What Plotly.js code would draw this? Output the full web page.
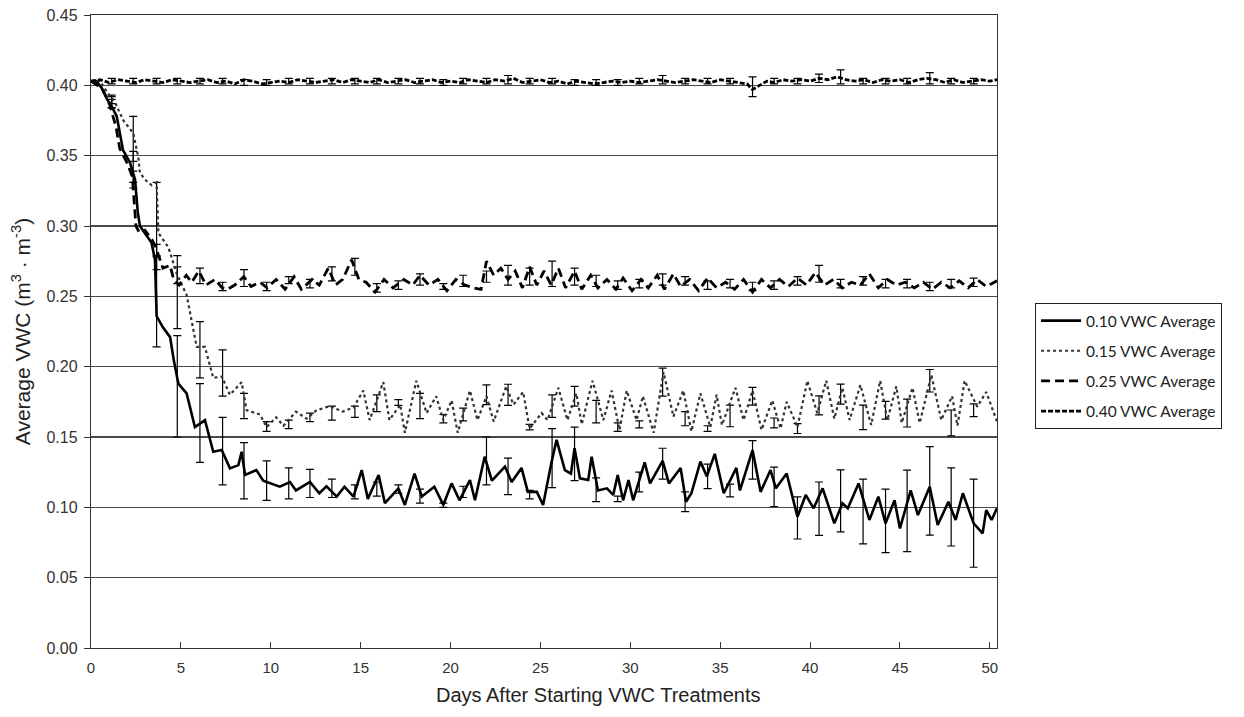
<!DOCTYPE html>
<html>
<head>
<meta charset="utf-8">
<script src="https://cdn.plot.ly/plotly-3.0.1.min.js"></script>
<style>
  html, body { margin: 0; padding: 0; background: #fff; }
  #chart { width: 1244px; height: 717px; }
</style>
</head>
<body>
<div id="chart"></div>
<script>
// ---------------- DATA ----------------
const SERIES_NAMES = ["0.10 VWC Average", "0.15 VWC Average", "0.25 VWC Average", "0.40 VWC Average"];
const X_TICKS = [0, 5, 10, 15, 20, 25, 30, 35, 40, 45, 50];
const Y_TICKS = [0.00, 0.05, 0.10, 0.15, 0.20, 0.25, 0.30, 0.35, 0.40, 0.45];
const X_TITLE = 'Days After Starting VWC Treatments';
const Y_TITLE = 'Average VWC (m<sup>3</sup> · m<sup>-3</sup>)';

// 0.10 VWC treatment
const DAYS_010 = [0,0.3,0.6,0.9,1.15,1.43,1.78,2.17,2.45,2.6,2.72,3.0,3.37,3.56,3.65,4.0,4.4,4.6,4.86,5.32,5.78,6.34,6.8,7.27,7.73,8.2,8.38,8.57,9.2,9.58,10.5,11.07,11.4,12.18,12.7,13.1,13.67,14.1,14.6,15.06,15.4,16.0,16.35,17.1,17.46,18.0,18.4,19.1,19.6,20.06,20.5,21.08,21.36,21.9,22.3,23.03,23.4,23.95,24.3,24.8,25.15,25.6,25.9,26.36,26.7,26.9,27.2,27.66,27.85,28.2,28.7,29.05,29.3,29.6,29.9,30.16,30.8,31.1,31.8,32.15,32.8,33.1,33.4,33.9,34.26,34.7,35.2,35.9,36.1,36.8,37.25,37.8,38.1,38.7,39.3,39.76,40.2,40.7,41.35,41.8,42.1,42.7,43.3,43.8,44.2,44.7,45.0,45.6,46.0,46.66,47.1,47.7,48.1,48.5,49.1,49.6,49.8,50.1,50.4];
const VWC_010 = [0.403,0.403,0.398,0.390,0.385,0.378,0.354,0.345,0.333,0.310,0.300,0.295,0.288,0.276,0.236,0.228,0.221,0.205,0.188,0.181,0.157,0.162,0.1395,0.1407,0.1277,0.130,0.1395,0.123,0.1265,0.119,0.1147,0.118,0.112,0.118,0.110,0.115,0.1076,0.1147,0.1076,0.1265,0.106,0.123,0.103,0.1135,0.1017,0.124,0.1076,0.1147,0.1017,0.117,0.105,0.1194,0.105,0.136,0.119,0.129,0.118,0.128,0.111,0.111,0.1017,0.131,0.148,0.1265,0.124,0.142,0.1206,0.1194,0.136,0.112,0.1135,0.1088,0.123,0.105,0.1194,0.105,0.132,0.117,0.133,0.117,0.128,0.104,0.110,0.1325,0.122,0.138,0.110,0.128,0.112,0.1407,0.111,0.1265,0.1135,0.124,0.0933,0.1088,0.0993,0.1135,0.0886,0.1029,0.0993,0.117,0.091,0.1076,0.0886,0.105,0.085,0.112,0.0945,0.1147,0.0874,0.104,0.091,0.110,0.0886,0.0815,0.098,0.091,0.0995];

// 0.15 VWC treatment
const DAYS_015 = [0,0.5,0.9,1.33,1.8,2.1,2.35,2.63,2.72,3.0,3.37,3.65,3.75,4.3,4.77,5.32,5.88,6.34,6.8,7.27,7.73,8.38,8.66,9.4,9.77,10.3,10.7,11.4,12.0,12.55,13.3,14.0,14.6,15.15,15.5,16.26,16.6,17.2,17.46,18.1,18.67,19.2,19.6,20.06,20.4,21.08,21.5,22.0,22.4,23.1,23.5,24.04,24.4,25.07,25.4,26.0,26.5,27.0,27.3,27.9,28.5,28.96,29.4,29.8,30.35,30.7,31.3,31.85,32.4,32.95,33.4,33.9,34.45,34.8,35.1,35.85,36.3,36.8,37.3,37.9,38.36,38.7,39.3,39.85,40.4,40.9,41.35,41.8,42.2,42.8,43.4,43.9,44.3,44.8,45.1,45.7,46.1,46.75,47.3,47.9,48.2,48.6,49.3,49.8,50.4];
const VWC_015 = [0.403,0.403,0.395,0.388,0.375,0.370,0.366,0.349,0.338,0.333,0.329,0.331,0.295,0.285,0.266,0.251,0.214,0.214,0.192,0.193,0.180,0.189,0.169,0.166,0.157,0.164,0.158,0.168,0.163,0.169,0.172,0.168,0.171,0.183,0.162,0.189,0.162,0.173,0.153,0.190,0.167,0.179,0.162,0.176,0.153,0.183,0.162,0.179,0.161,0.186,0.173,0.182,0.156,0.167,0.162,0.185,0.162,0.181,0.159,0.190,0.162,0.183,0.155,0.183,0.162,0.179,0.153,0.196,0.1645,0.183,0.154,0.181,0.157,0.180,0.1585,0.185,0.162,0.183,0.155,0.176,0.156,0.175,0.157,0.190,0.167,0.190,0.163,0.185,0.162,0.187,0.1585,0.190,0.162,0.186,0.160,0.185,0.160,0.194,0.162,0.179,0.158,0.190,0.1715,0.182,0.161];

// 0.25 VWC treatment
const DAYS_025 = [0,0.6,1.0,1.4,1.6,2.0,2.3,2.5,2.7,3.0,3.4,3.6,4.0,4.4,4.6,4.9,5.3,5.6,6.0,6.4,6.9,7.3,7.6,8.0,8.5,8.9,9.4,9.8,10.3,10.8,11.3,11.7,12.3,12.7,13.2,13.6,14.0,14.5,14.9,15.3,15.8,16.3,16.8,17.4,17.9,18.3,18.8,19.3,19.8,20.3,20.8,21.3,21.7,22.0,22.4,22.8,23.2,23.6,24.0,24.4,24.8,25.2,25.6,26.0,26.4,26.9,27.3,27.8,28.2,28.7,29.2,29.6,30.1,30.6,31.0,31.5,31.9,32.4,32.8,33.3,33.8,34.3,34.8,35.3,35.8,36.3,36.8,37.3,37.8,38.3,38.8,39.3,39.8,40.3,40.8,41.3,41.8,42.3,42.8,43.3,43.8,44.3,44.8,45.3,45.8,46.3,46.8,47.3,47.8,48.3,48.8,49.3,49.8,50.4];
const VWC_025 = [0.403,0.398,0.388,0.370,0.355,0.345,0.335,0.300,0.295,0.297,0.290,0.285,0.270,0.272,0.262,0.258,0.265,0.260,0.268,0.258,0.262,0.256,0.255,0.258,0.264,0.257,0.260,0.256,0.262,0.255,0.264,0.255,0.262,0.258,0.270,0.258,0.262,0.276,0.262,0.260,0.253,0.262,0.256,0.262,0.258,0.265,0.258,0.262,0.254,0.262,0.258,0.256,0.255,0.275,0.265,0.270,0.262,0.268,0.256,0.271,0.258,0.268,0.258,0.270,0.256,0.268,0.255,0.265,0.256,0.262,0.255,0.263,0.254,0.262,0.256,0.265,0.255,0.266,0.257,0.262,0.254,0.263,0.256,0.260,0.255,0.262,0.253,0.262,0.256,0.262,0.257,0.263,0.258,0.267,0.258,0.262,0.256,0.260,0.258,0.266,0.256,0.262,0.258,0.260,0.256,0.260,0.255,0.260,0.256,0.261,0.256,0.262,0.257,0.261];

// 0.40 VWC treatment
const DAYS_040 = [0,0.5,1.0,1.5,2.0,2.5,3.0,3.5,4.0,4.5,5.0,5.5,6.0,6.5,7.0,7.5,8.0,8.5,9.0,9.5,10.0,10.5,11.0,11.5,12.0,12.5,13.0,13.5,14.0,14.5,15.0,15.5,16.0,16.5,17.0,17.5,18.0,18.5,19.0,19.5,20.0,20.5,21.0,21.5,22.0,22.5,23.0,23.5,24.0,24.5,25.0,25.5,26.0,26.5,27.0,27.5,28.0,28.5,29.0,29.5,30.0,30.5,31.0,31.5,32.0,32.5,33.0,33.5,34.0,34.5,35.0,35.5,36.0,36.5,36.8,37.2,37.6,38.0,38.5,39.0,39.5,40.0,40.5,41.0,41.5,42.0,42.5,43.0,43.5,44.0,44.5,45.0,45.5,46.0,46.5,47.0,47.5,48.0,48.5,49.0,49.5,50.0,50.4];
const VWC_040 = [0.403,0.404,0.402,0.404,0.403,0.402,0.404,0.403,0.402,0.404,0.403,0.402,0.403,0.404,0.402,0.403,0.401,0.404,0.403,0.401,0.402,0.403,0.402,0.404,0.403,0.402,0.403,0.404,0.402,0.404,0.403,0.402,0.404,0.402,0.403,0.404,0.402,0.403,0.404,0.402,0.403,0.402,0.404,0.403,0.402,0.404,0.403,0.405,0.402,0.403,0.404,0.402,0.403,0.401,0.403,0.402,0.401,0.402,0.403,0.402,0.403,0.402,0.403,0.404,0.403,0.402,0.403,0.404,0.403,0.402,0.404,0.403,0.402,0.401,0.397,0.400,0.403,0.402,0.404,0.403,0.404,0.403,0.405,0.404,0.406,0.404,0.403,0.404,0.402,0.404,0.403,0.404,0.402,0.404,0.405,0.404,0.402,0.404,0.402,0.403,0.404,0.403,0.404];

// Error bars (standard error) sampled at these days
const ERR_DAYS = [1.15,2.35,3.65,4.8,6.06,7.32,8.51,9.77,11.0,12.18,13.4,14.68,15.9,17.1,18.3,19.6,20.7,22.0,23.2,24.4,25.65,26.9,28.1,29.3,30.5,31.8,33.05,34.3,35.55,36.8,38.0,39.3,40.5,41.7,42.95,44.2,45.4,46.66,47.85,49.1];
const ERR_MEAN_010 = [0.388,0.340,0.246,0.186,0.160,0.140,0.126,0.119,0.117,0.117,0.1135,0.111,0.113,0.113,0.108,0.1015,0.111,0.133,0.122,0.109,0.135,0.138,0.1125,0.106,0.118,0.131,0.104,0.122,0.112,0.1337,0.1146,0.0925,0.099,0.1046,0.097,0.0904,0.0975,0.1117,0.1003,0.0887];
const ERR_SE_010   = [0.004,0.013,0.032,0.036,0.028,0.024,0.020,0.014,0.011,0.010,0.0065,0.005,0.005,0.003,0.005,0.0015,0.004,0.017,0.013,0.003,0.021,0.019,0.0085,0.002,0.007,0.011,0.007,0.0087,0.0045,0.0137,0.014,0.015,0.019,0.022,0.023,0.0226,0.029,0.0314,0.0278,0.0313];
const ERR_MEAN_015 = [0.390,0.362,0.300,0.253,0.212,0.1955,0.172,0.1575,0.159,0.164,0.167,0.168,0.174,0.1745,0.172,0.163,0.166,0.180,0.180,0.157,0.172,0.179,0.168,0.157,0.159,0.189,0.163,0.156,0.165,0.179,0.160,0.156,0.1725,0.1805,0.164,0.169,0.167,0.190,0.160,0.169];
const ERR_SE_015   = [0.003,0.016,0.031,0.026,0.020,0.0165,0.009,0.0035,0.003,0.003,0.005,0.004,0.006,0.002,0.009,0.003,0.0045,0.007,0.0075,0.002,0.008,0.007,0.008,0.003,0.0025,0.010,0.005,0.002,0.0077,0.0063,0.0035,0.0035,0.0068,0.0071,0.0087,0.0063,0.0099,0.008,0.0092,0.0045];
const ERR_MEAN_025 = [0.387,0.335,0.283,0.265,0.2645,0.257,0.263,0.257,0.2615,0.259,0.266,0.271,0.256,0.258,0.262,0.257,0.261,0.264,0.265,0.264,0.266,0.264,0.261,0.258,0.259,0.262,0.261,0.258,0.259,0.257,0.258,0.261,0.266,0.259,0.261,0.259,0.259,0.257,0.259,0.260];
const ERR_SE_025   = [0.003,0.004,0.004,0.006,0.0055,0.003,0.006,0.003,0.0025,0.003,0.005,0.006,0.003,0.003,0.004,0.002,0.004,0.004,0.007,0.006,0.009,0.006,0.004,0.003,0.003,0.004,0.003,0.003,0.003,0.003,0.003,0.003,0.006,0.003,0.003,0.003,0.003,0.003,0.003,0.003];
const ERR_MEAN_040 = [0.403,0.403,0.403,0.403,0.403,0.403,0.402,0.402,0.403,0.403,0.403,0.403,0.403,0.403,0.403,0.402,0.403,0.403,0.404,0.403,0.403,0.402,0.402,0.402,0.403,0.404,0.403,0.403,0.403,0.399,0.403,0.403,0.405,0.406,0.403,0.403,0.403,0.405,0.403,0.403];
const ERR_SE_040   = [0.002,0.002,0.002,0.002,0.002,0.002,0.002,0.002,0.002,0.002,0.002,0.002,0.002,0.002,0.002,0.002,0.002,0.002,0.003,0.002,0.002,0.002,0.002,0.002,0.002,0.003,0.002,0.002,0.002,0.007,0.002,0.002,0.003,0.005,0.002,0.002,0.002,0.004,0.002,0.002];

// ---------------- CHART ----------------
const STYLES = [
  {color: '#000000', width: 2.6, dash: 'solid'},
  {color: '#333333', width: 2.2, dash: 'dot'},
  {color: '#000000', width: 2.8, dash: '9px,5px'},
  {color: '#000000', width: 2.8, dash: '5px,2px'}
];
const LINES = [[DAYS_010, VWC_010], [DAYS_015, VWC_015], [DAYS_025, VWC_025], [DAYS_040, VWC_040]];
const ERRS = [[ERR_MEAN_010, ERR_SE_010], [ERR_MEAN_015, ERR_SE_015], [ERR_MEAN_025, ERR_SE_025], [ERR_MEAN_040, ERR_SE_040]];

const traces = [];
ERRS.forEach((e, i) => {
  traces.push({
    type: 'scatter', mode: 'markers', x: ERR_DAYS, y: e[0],
    marker: {size: 1, opacity: 0}, showlegend: false, hoverinfo: 'skip',
    error_y: {type: 'data', array: e[1], visible: true, color: '#000', thickness: 1.2, width: 4}
  });
});
LINES.forEach((l, i) => {
  traces.push({
    type: 'scatter', mode: 'lines', name: SERIES_NAMES[i], x: l[0], y: l[1],
    line: STYLES[i], legendgroup: 'g' + i
  });
});

const FONT = 'Liberation Sans, Arial, sans-serif';
const layout = {
  width: 1244, height: 717,
  margin: {l: 91, r: 247, t: 15, b: 69},
  paper_bgcolor: '#fff', plot_bgcolor: '#fff',
  font: {family: FONT, color: '#222'},
  showlegend: true,
  xaxis: {
    range: [0, 50.4], tickvals: X_TICKS, ticktext: X_TICKS.map(String),
    ticks: 'inside', ticklen: 6, tickcolor: '#333', tickwidth: 1,
    ticklabelstandoff: 6,
    showline: true, linecolor: '#333', linewidth: 1.2, mirror: true,
    showgrid: false, zeroline: false,
    tickfont: {size: 15, color: '#333'}
  },
  yaxis: {
    range: [0, 0.45], tickvals: Y_TICKS, ticktext: Y_TICKS.map(v => v.toFixed(2)),
    ticks: 'outside', ticklen: 6, tickcolor: '#333', tickwidth: 1,
    ticklabelstandoff: 3,
    showline: true, linecolor: '#333', linewidth: 1.2, mirror: true,
    showgrid: true, gridcolor: '#4a4a4a', gridwidth: 1.1, zeroline: false,
    tickfont: {size: 16, color: '#333'},
    title: {text: Y_TITLE, font: {size: 21, color: '#222'}, standoff: 10}
  },
  annotations: [{
    text: X_TITLE, xref: 'paper', yref: 'paper', x: 0.56, y: -0.074,
    xanchor: 'center', yanchor: 'middle', showarrow: false,
    font: {size: 20, color: '#222', family: FONT}
  }],
  legend: {
    x: 1.042, xanchor: 'left', y: 0.545, yanchor: 'top',
    bordercolor: '#222', borderwidth: 1, bgcolor: '#fff',
    font: {family: 'Lato, Open Sans, sans-serif', size: 15.5, color: '#222'},
    traceorder: 'grouped', tracegroupgap: 7, itemwidth: 40
  }
};

Plotly.newPlot('chart', traces, layout, {displayModeBar: false, staticPlot: true});
</script>
</body>
</html>
